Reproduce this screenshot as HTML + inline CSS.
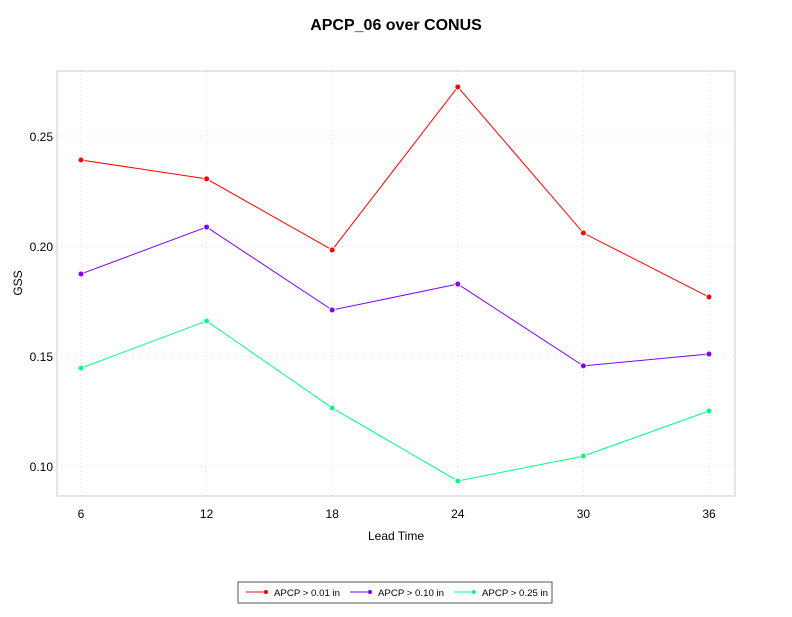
<!DOCTYPE html>
<html><head><meta charset="utf-8"><style>
body{margin:0;background:#fff;font-family:"Liberation Sans",sans-serif}
svg text{font-family:"Liberation Sans",sans-serif}
</style></head><body>
<svg id="chart" width="792" height="612">
<text x="396" y="30" text-anchor="middle" font-size="16" font-weight="bold">APCP_06 over CONUS</text>
<g id="grid"></g>
<rect x="57" y="71" width="678" height="425" fill="none" stroke="#cccccc"/>
<g id="series"></g>
<g id="axes"></g>
<text x="396" y="540" text-anchor="middle" font-size="12">Lead Time</text>
<text transform="translate(22,283) rotate(-90)" text-anchor="middle" font-size="12">GSS</text>
<g>
<rect x="238" y="582" width="314" height="21" fill="#fff" stroke="#555"/>
<g id="legend"></g>
</g>
</svg>
<script>
const categories=[6,12,18,24,30,36];
const yTicks=[0.10,0.15,0.20,0.25];
const yTickLabels=["0.10","0.15","0.20","0.25"];
const s001=[0.2391,0.2305,0.1982,0.2723,0.2059,0.1768];
const s010=[0.1873,0.2086,0.1709,0.1827,0.1455,0.1509];
const s025=[0.1445,0.1659,0.1264,0.0932,0.1045,0.1250];
const seriesNames=["APCP > 0.01 in","APCP > 0.10 in","APCP > 0.25 in"];
const seriesColors=["#ff0000","#8000ff","#00ff80"];
const NS="http://www.w3.org/2000/svg";
function xS(v){return 81+(v-6)*(709-81)/30;}
function yS(v){return 466-(v-0.10)*2200;}
function mk(t,a,p){const e=document.createElementNS(NS,t);for(const k in a)e.setAttribute(k,a[k]);p.appendChild(e);return e;}
const grid=document.getElementById('grid'),axes=document.getElementById('axes'),ser=document.getElementById('series'),leg=document.getElementById('legend');
categories.forEach(c=>{
 const l=mk('line',{x1:xS(c),x2:xS(c),y1:71,y2:496,stroke:'#ddd','stroke-dasharray':'1,3'},grid);
 
 
 const t=mk('text',{x:xS(c),y:518,'text-anchor':'middle','font-size':'12'},axes);t.textContent=c;
 
 
});
yTicks.forEach((v,i)=>{
 const l=mk('line',{x1:57,x2:735,y1:yS(v),y2:yS(v),stroke:'#ddd','stroke-dasharray':'1,3'},grid);
 
 
 const t=mk('text',{x:53,y:yS(v)+5,'text-anchor':'end','font-size':'12'},axes);t.textContent=yTickLabels[i];
 
 
});
[s001,s010,s025].forEach((s,i)=>{
 const pts=s.map((v,j)=>xS(categories[j])+','+yS(v)).join(' ');
 const pl=mk('polyline',{points:pts,fill:'none',stroke:seriesColors[i],'stroke-width':1},ser);
 
 
 s.forEach((v,j)=>{
  const c=mk('circle',{cx:xS(categories[j]),cy:yS(v),r:3,fill:seriesColors[i],stroke:'#fff','stroke-width':1},ser);
  
  
 });
 const lx=[246,350,454][i];
 const ll=mk('line',{x1:lx,x2:lx+20,y1:592,y2:592,stroke:seriesColors[i]},leg);
 
 
 mk('circle',{cx:lx+20,cy:592,r:2,fill:seriesColors[i]},leg);
 const t=mk('text',{x:lx+28,y:596,'font-size':'9.5',textLength:66,lengthAdjust:'spacingAndGlyphs'},leg);t.textContent=seriesNames[i];
 
 
});
</script>
</body></html>
